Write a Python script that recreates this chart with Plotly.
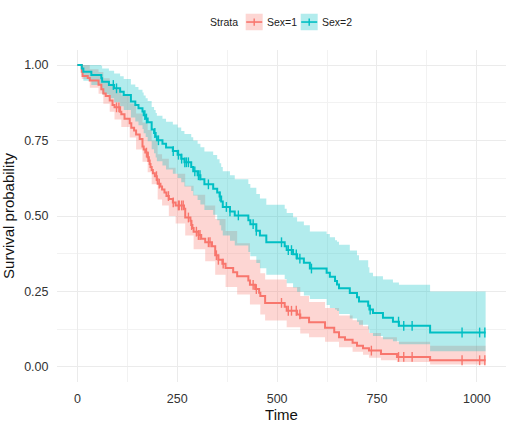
import numpy as np
import plotly.graph_objects as go

# Sex=1 curve (steps)
red_time = [0, 11, 13, 26, 31, 53, 60, 65, 71, 81, 88, 93, 107, 110, 118, 131, 135, 142, 147, 156,
            163, 166, 170, 176, 179, 181, 183, 186, 189, 194, 199, 201, 208, 212, 218, 223, 229, 239, 246, 267,
            270, 283, 285, 288, 291, 303, 310, 320, 337, 345, 353, 363, 371, 390, 400, 428, 432, 445, 455, 458,
            470, 519, 524, 550, 558, 580, 620, 643, 655, 670, 689, 700, 715, 730, 760, 800, 883, 1022]
red_surv = [1.0, 0.978, 0.964, 0.957, 0.949, 0.935, 0.920, 0.906, 0.898, 0.883,
            0.868, 0.860, 0.845, 0.837, 0.822, 0.807, 0.792, 0.783, 0.770, 0.755,
            0.730, 0.720, 0.710, 0.695, 0.684, 0.672, 0.662, 0.652, 0.642, 0.632,
            0.622, 0.607, 0.598, 0.588, 0.578, 0.566, 0.556, 0.545, 0.535, 0.524,
            0.495, 0.484, 0.470, 0.460, 0.448, 0.437, 0.425, 0.413, 0.400, 0.370,
            0.355, 0.342, 0.328, 0.314, 0.300, 0.286, 0.272, 0.258, 0.246, 0.235,
            0.212, 0.199, 0.186, 0.174, 0.163, 0.148, 0.130, 0.115, 0.098, 0.090,
            0.080, 0.070, 0.062, 0.054, 0.043, 0.033, 0.022, 0.022]
red_censor = [98, 104, 173, 177, 198, 205, 228, 240, 253, 255, 261, 265, 278, 286, 298, 303, 307, 328,
              332, 348, 353, 365, 440, 448, 511, 528, 536, 548, 557, 736, 804, 817, 838, 963, 1007, 1020]

# Sex=1 confidence band
red_ci_time = [0, 11, 31, 53, 65, 81, 93, 110, 131, 147, 163, 176, 186, 201, 212, 229, 246, 270, 291, 320,
               345, 371, 400, 432, 458, 470, 524, 558, 580, 620, 655, 689, 715, 730, 760, 800, 883, 1022]
red_lower = [1.0, 0.954, 0.925, 0.905, 0.872, 0.845, 0.820, 0.795, 0.760, 0.720,
             0.680, 0.645, 0.605, 0.555, 0.535, 0.500, 0.475, 0.435, 0.390, 0.350,
             0.305, 0.265, 0.240, 0.207, 0.174, 0.154, 0.131, 0.111, 0.098, 0.083,
             0.065, 0.050, 0.040, 0.030, 0.022, 0.016, 0.008, 0.008]
red_upper = [1.0, 1.0, 0.986, 0.977, 0.956, 0.938, 0.919, 0.899, 0.873, 0.840,
             0.810, 0.785, 0.750, 0.705, 0.690, 0.660, 0.640, 0.600, 0.570, 0.535,
             0.490, 0.450, 0.410, 0.355, 0.310, 0.290, 0.265, 0.235, 0.215, 0.195,
             0.170, 0.155, 0.135, 0.112, 0.098, 0.083, 0.070, 0.070]

# Sex=2 curve (steps) and band
teal_time = [0, 11, 15, 35, 60, 62, 79, 92, 107, 116, 134, 145, 153, 163, 166, 171, 176, 186, 192, 196,
             199, 213, 222, 239, 251, 260, 268, 285, 290, 301, 308, 318, 340, 350, 356, 360, 364, 382, 394, 428,
             433, 448, 457, 473, 519, 524, 540, 550, 567, 582, 624, 632, 645, 650, 655, 682, 700, 705, 728, 731,
             740, 765, 790, 805, 883, 1022]
teal_surv = [1.0, 0.989, 0.978, 0.967, 0.956, 0.945, 0.934, 0.923, 0.912, 0.901,
             0.879, 0.868, 0.857, 0.846, 0.834, 0.823, 0.811, 0.787, 0.775, 0.763,
             0.751, 0.739, 0.727, 0.715, 0.703, 0.690, 0.678, 0.662, 0.648, 0.635,
             0.622, 0.605, 0.590, 0.578, 0.565, 0.548, 0.530, 0.515, 0.502, 0.486,
             0.473, 0.451, 0.435, 0.413, 0.400, 0.387, 0.373, 0.359, 0.345, 0.326,
             0.312, 0.299, 0.285, 0.273, 0.261, 0.245, 0.231, 0.217, 0.203, 0.190,
             0.179, 0.163, 0.150, 0.136, 0.114, 0.114]
teal_lower = [1.0, 0.967, 0.948, 0.934, 0.917, 0.903, 0.890, 0.877, 0.864, 0.851,
              0.826, 0.813, 0.801, 0.788, 0.774, 0.762, 0.748, 0.721, 0.708, 0.694,
              0.681, 0.667, 0.654, 0.640, 0.626, 0.612, 0.598, 0.583, 0.568, 0.553,
              0.538, 0.520, 0.504, 0.486, 0.469, 0.452, 0.435, 0.418, 0.402, 0.381,
              0.367, 0.344, 0.327, 0.305, 0.291, 0.277, 0.263, 0.249, 0.237, 0.225,
              0.205, 0.195, 0.190, 0.185, 0.175, 0.160, 0.150, 0.140, 0.125, 0.112,
              0.102, 0.092, 0.085, 0.075, 0.052, 0.052]
teal_upper = [1.0, 1.0, 1.0, 1.0, 0.997, 0.989, 0.981, 0.972, 0.963, 0.954,
              0.936, 0.927, 0.918, 0.909, 0.899, 0.890, 0.881, 0.861, 0.851, 0.841,
              0.832, 0.822, 0.812, 0.803, 0.793, 0.782, 0.772, 0.761, 0.750, 0.739,
              0.728, 0.714, 0.702, 0.688, 0.675, 0.662, 0.648, 0.635, 0.622, 0.606,
              0.594, 0.573, 0.558, 0.537, 0.524, 0.510, 0.496, 0.482, 0.469, 0.449,
              0.440, 0.430, 0.420, 0.415, 0.405, 0.386, 0.370, 0.353, 0.330, 0.312,
              0.300, 0.290, 0.280, 0.272, 0.250, 0.250]
teal_censor = [90, 98, 169, 173, 194, 203, 240, 253, 261, 269, 273, 278, 294, 303, 307, 328, 357, 373,
               382, 403, 440, 448, 511, 528, 536, 548, 557, 586, 733, 804, 817, 838, 963, 1007, 1020]

strata = ["Sex=1", "Sex=2"]
x_ticks = [0, 250, 500, 750, 1000]
y_ticks = [0.0, 0.25, 0.5, 0.75, 1.0]

RED = "#F8766D"
TEAL = "#00BFC4"
RED_FILL = "rgba(248,118,109,0.3)"
TEAL_FILL = "rgba(0,191,196,0.3)"
FONT = "Liberation Sans, Arial, sans-serif"


def step_value(times, surv, at):
    idx = np.searchsorted(times, at, side="right") - 1
    return np.asarray(surv)[idx]


fig = go.Figure()

# confidence bands
for t, lo, hi, fill in [(red_ci_time, red_lower, red_upper, RED_FILL),
                        (teal_time, teal_lower, teal_upper, TEAL_FILL)]:
    fig.add_trace(go.Scatter(x=t, y=lo, mode="lines", line=dict(width=0, shape="hv"),
                             hoverinfo="skip", showlegend=False))
    fig.add_trace(go.Scatter(x=t, y=hi, mode="lines", line=dict(width=0, shape="hv"),
                             fill="tonexty", fillcolor=fill, hoverinfo="skip", showlegend=False))

# survival curves + censor marks
for name, t, s, cens, col in [(strata[0], red_time, red_surv, red_censor, RED),
                              (strata[1], teal_time, teal_surv, teal_censor, TEAL)]:
    fig.add_trace(go.Scatter(x=t, y=s, mode="lines", name=name,
                             line=dict(color=col, width=2, shape="hv"), showlegend=False))
    fig.add_trace(go.Scatter(x=cens, y=step_value(t, s, cens), mode="markers",
                             marker=dict(symbol="line-ns", size=7, line=dict(color=col, width=1.4)),
                             hoverinfo="skip", showlegend=False))

# plot area in pixels, used to place the hand-drawn legend
PL, PR, PT, PB = 57, 506, 50, 386


def px(x):
    return (x - PL) / (PR - PL)


def py(y):
    return (PB - y) / (PB - PT)


shapes = []
annotations = [dict(text="Strata", x=px(239.5), y=py(21.7), xref="paper", yref="paper",
                    xanchor="right", yanchor="middle", showarrow=False,
                    font=dict(size=10.5, color="#222222"))]
for name, col, fill, x0 in [(strata[0], RED, RED_FILL, 245.7), (strata[1], TEAL, TEAL_FILL, 300.7)]:
    shapes.append(dict(type="rect", xref="paper", yref="paper", x0=px(x0), x1=px(x0 + 17),
                       y0=py(30), y1=py(13.3), fillcolor=fill, line=dict(width=0)))
    shapes.append(dict(type="line", xref="paper", yref="paper", x0=px(x0 + 0.5), x1=px(x0 + 16.5),
                       y0=py(21.7), y1=py(21.7), line=dict(color=col, width=1.6)))
    shapes.append(dict(type="line", xref="paper", yref="paper", x0=px(x0 + 8.5), x1=px(x0 + 8.5),
                       y0=py(18), y1=py(25.5), line=dict(color=col, width=1.4)))
    annotations.append(dict(text=name, x=px(x0 + 19.5), y=py(21.7), xref="paper", yref="paper",
                            xanchor="left", yanchor="middle", showarrow=False,
                            font=dict(size=10.5, color="#222222")))

fig.update_layout(
    width=512, height=425,
    margin=dict(l=PL, r=512 - PR, t=PT, b=425 - PB),
    paper_bgcolor="white", plot_bgcolor="white",
    font=dict(family=FONT, color="#333333"),
    shapes=shapes, annotations=annotations,
    showlegend=False,
    xaxis=dict(
        range=[-51, 1073], tickvals=x_ticks, ticktext=[str(v) for v in x_ticks],
        showgrid=True, gridcolor="#EBEBEB", gridwidth=1.1,
        minor=dict(dtick=125, tick0=0, showgrid=True, gridcolor="#F2F2F2", gridwidth=0.8),
        zeroline=False, showline=False,
        ticks="outside", ticklen=5, tickcolor="rgba(0,0,0,0)",
        tickfont=dict(size=12.5, color="#333333"),
        title=dict(text="Time", font=dict(size=15, color="#111111"), standoff=2),
    ),
    yaxis=dict(
        range=[-0.05, 1.05], tickvals=y_ticks, ticktext=["%.2f" % v for v in y_ticks],
        showgrid=True, gridcolor="#EBEBEB", gridwidth=1.1,
        minor=dict(dtick=0.125, tick0=0, showgrid=True, gridcolor="#F2F2F2", gridwidth=0.8),
        zeroline=False, showline=False,
        ticks="outside", ticklen=5, tickcolor="rgba(0,0,0,0)",
        tickfont=dict(size=12.5, color="#333333"),
        title=dict(text="Survival probability", font=dict(size=15, color="#111111"), standoff=5),
    ),
)

# the page body has a default 8px margin; drop it so the figure fills the window
fig.write_html("out.html", config={"displayModeBar": False},
               post_script="document.body.style.margin='0px';")
